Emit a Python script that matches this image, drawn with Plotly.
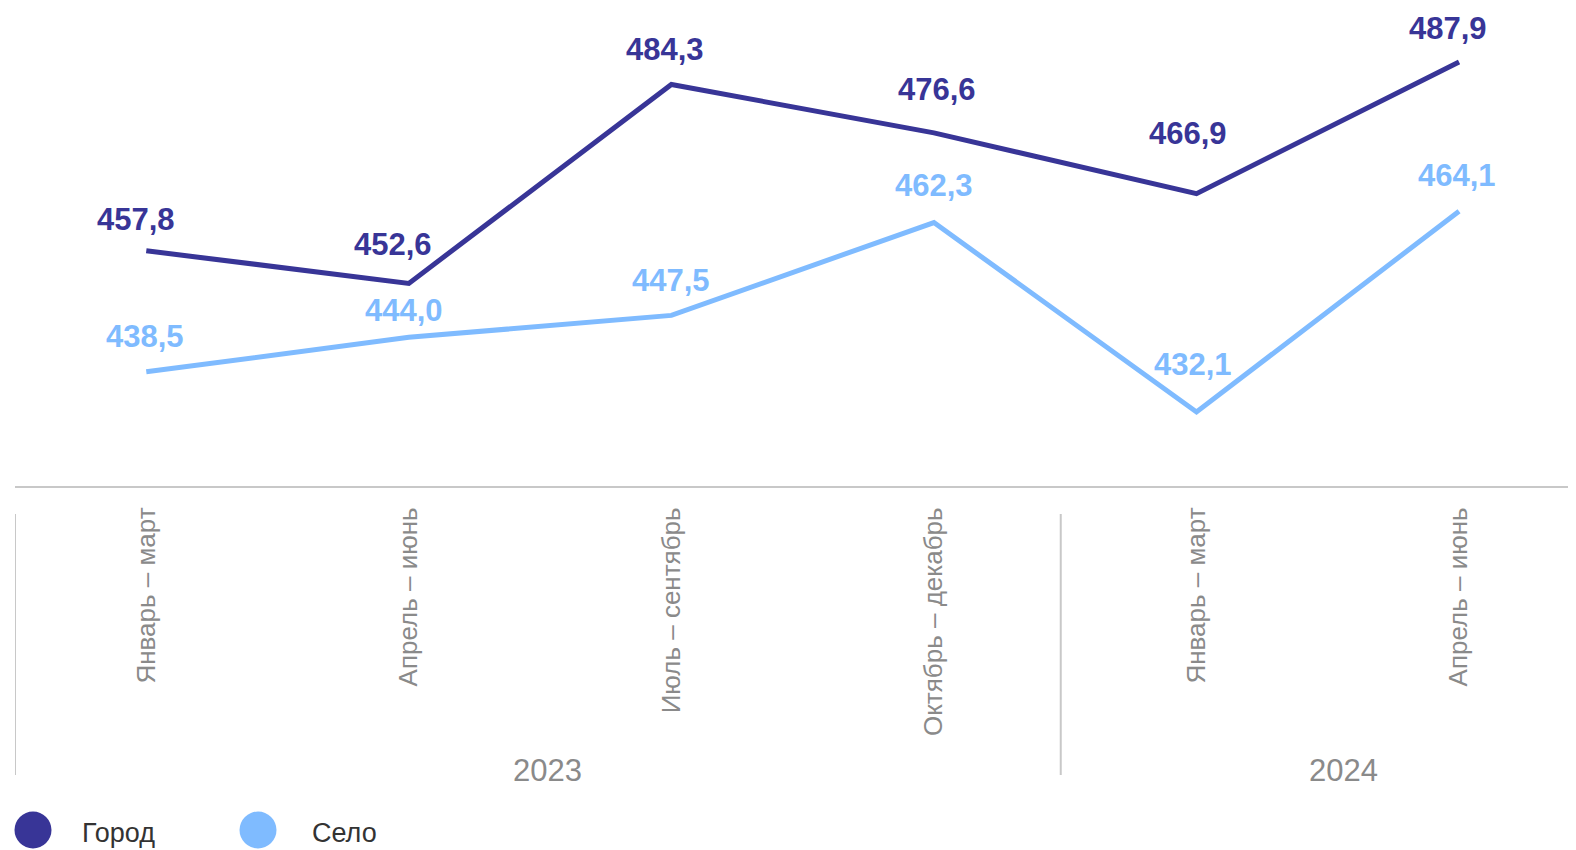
import plotly.graph_objects as go

categories = ["Январь – март", "Апрель – июнь", "Июль – сентябрь", "Октябрь – декабрь", "Январь – март", "Апрель – июнь"]
years = ["2023", "2024"]
gorod = [457.8, 452.6, 484.3, 476.6, 466.9, 487.9]
selo = [438.5, 444.0, 447.5, 462.3, 432.1, 464.1]
series_names = ["Город", "Село"]

# label offsets in px (dx, dy up) — styling only
gorod_off = [(-10, 31), (-16, 39), (-6, 35), (3, 43), (-8, 60), (-11, 33)]
selo_off = [(-1, 35), (-5, 27), (0, 35), (0, 37), (-3, 47), (-2, 36)]

C_DARK = "#383597"
C_LIGHT = "#7FBBFF"
FONT = "Liberation Sans, Arial, sans-serif"

# page body margin offsets
OFF_X, OFF_Y = 8, 6
W, H = 1560, 842
L, R, T, B = 7, 0, 0, 842 - 478
PH = H - T - B

xs = list(range(len(categories)))


def fmt(v):
    return f"{v:.1f}".replace(".", ",")


def py(page_y):
    fy = page_y - OFF_Y
    return (PH - fy) / PH


def px(page_x):
    fx = page_x - OFF_X
    return (fx - L) / (W - L - R)


fig = go.Figure()
for vals, col, name in [(selo, C_LIGHT, series_names[1]), (gorod, C_DARK, series_names[0])]:
    fig.add_trace(go.Scatter(
        x=xs, y=vals, mode="lines", name=name,
        line=dict(color=col, width=5),
        showlegend=False, cliponaxis=False, hoverinfo="x+y",
    ))

annotations = []
for vals, offs, col in [(gorod, gorod_off, C_DARK), (selo, selo_off, C_LIGHT)]:
    for xv, v, (dx, dy) in zip(xs, vals, offs):
        annotations.append(dict(
            x=xv, y=v, xref="x", yref="y", text=fmt(v), showarrow=False,
            xanchor="center", yanchor="middle", xshift=dx, yshift=dy,
            font=dict(family=FONT, size=31, color=col, weight="bold"),
        ))

fig.update_xaxes(
    range=[-0.5, 5.415], tickmode="array", tickvals=xs, ticktext=categories,
    tickangle=-90, tickfont=dict(family=FONT, size=26, color="#8a8a8a"),
    showline=True, linecolor="#c8c8c8", linewidth=2, showgrid=False, zeroline=False,
    ticks="", ticklabelstandoff=9,
)
fig.update_yaxes(range=[420.3, 496.5], visible=False, showgrid=False)

shapes = []
# group separators
for xv in [-0.5, 3.483]:
    shapes.append(dict(type="line", xref="x", yref="paper", x0=xv, x1=xv,
                       y0=py(512), y1=py(773),
                       line=dict(color="#c8c8c8", width=2)))
# year labels
for yr, xv in zip(years, [1.528, 4.56]):
    annotations.append(dict(text=yr, xref="x", yref="paper", x=xv, y=py(768),
                            showarrow=False, xanchor="center", yanchor="middle",
                            font=dict(family=FONT, size=31, color="#8a8a8a")))
# legend
for name, col, cx, tx in [(series_names[0], C_DARK, 33, 80), (series_names[1], C_LIGHT, 258, 310)]:
    r = 18.5
    shapes.append(dict(type="circle", xref="paper", yref="paper",
                       x0=px(cx - r), x1=px(cx + r),
                       y0=py(828 + r), y1=py(828 - r),
                       fillcolor=col, line=dict(width=0)))
    annotations.append(dict(text=name, xref="paper", yref="paper", x=px(tx), y=py(831),
                            showarrow=False, xanchor="left", yanchor="middle",
                            font=dict(family=FONT, size=27, color="#333333")))

fig.update_layout(
    width=W, height=H, margin=dict(l=L, r=R, t=T, b=B, autoexpand=False),
    paper_bgcolor="white", plot_bgcolor="white",
    shapes=shapes, annotations=annotations,
)
fig.write_html("out.html")
